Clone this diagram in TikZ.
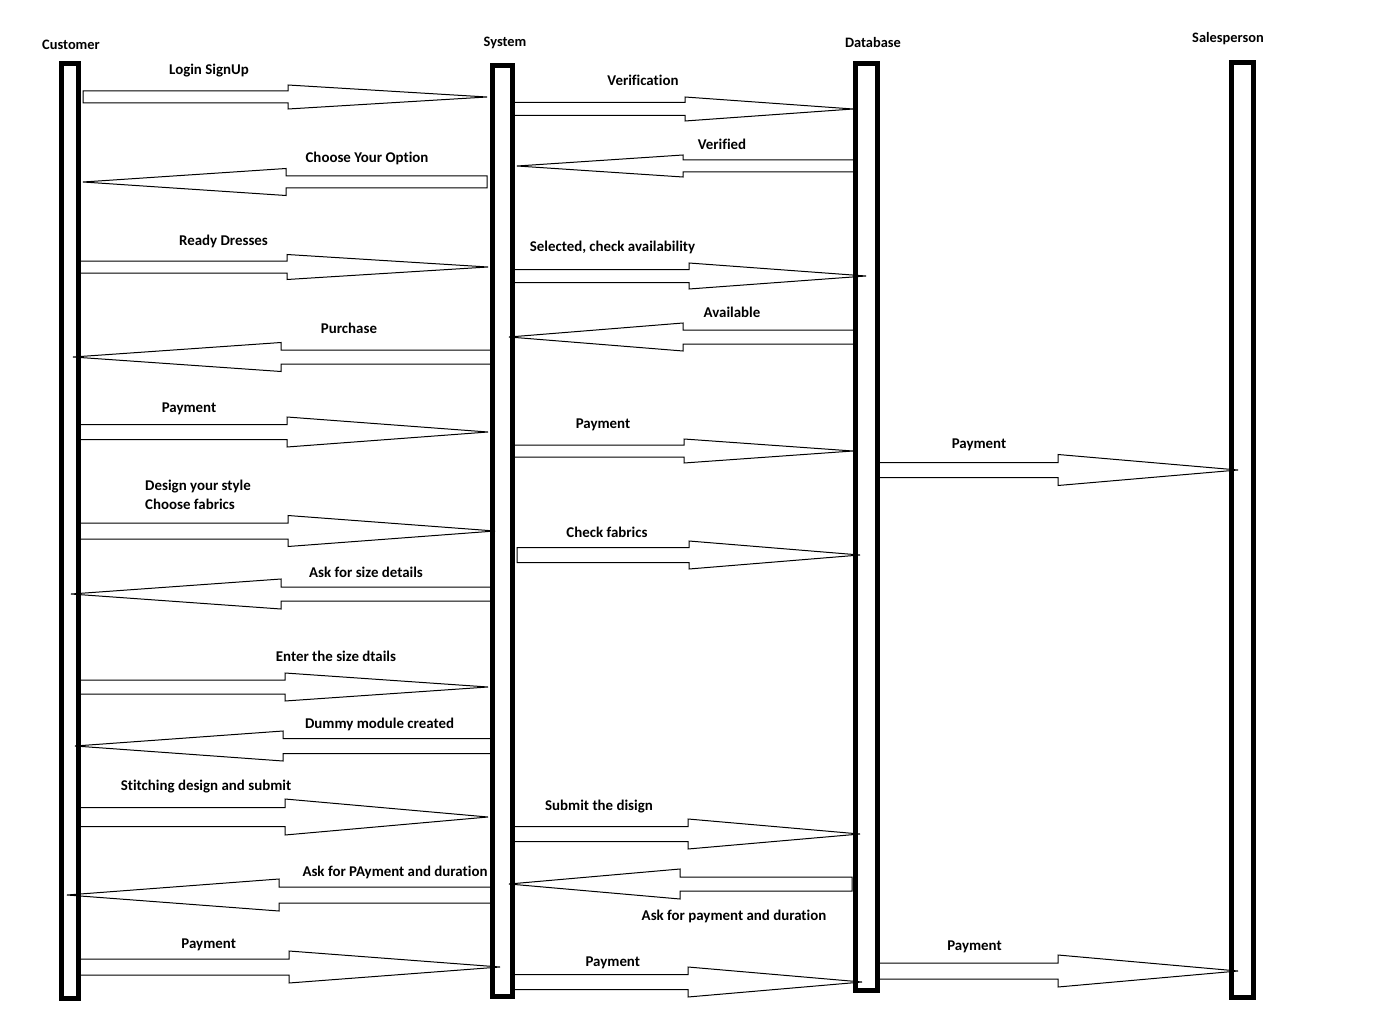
\documentclass[tikz,border=0pt]{standalone}
\usepackage{fontspec}
\setmainfont{Carlito}[Ligatures={NoCommon}]
\begin{document}
\begin{tikzpicture}[x=1pt,y=-1pt,
  arr/.style={draw=black,line width=1pt,fill=white,line join=miter},
  life/.style={draw=black,line width=5pt},
  lbl/.style={font=\fontsize{14.9}{17}\selectfont\bfseries,inner sep=0pt,anchor=center},
  hdr/.style={font=\fontsize{14.4}{17}\selectfont\bfseries,inner sep=0pt,anchor=center}]
\useasboundingbox[fill=white] (0,0) rectangle (1382,1030);
% block arrow: tail x, head base x, tip x, centre y, shaft half, head half
\newcommand\blockarr[6]{%
  \draw[arr] (#1,#4-#5) -- (#2,#4-#5) -- (#2,#4-#6) -- (#3,#4) -- (#2,#4+#6) -- (#2,#4+#5) -- (#1,#4+#5) -- cycle;}
% headers
\node[hdr] (hcust) at (71,44.5) {Customer};
\node[hdr] (hsys) at (505,42.5) {System};
\node[hdr] (hdb) at (873,42.5) {Database};
\node[hdr] (hsales) at (1228,38.5) {Salesperson};
% arrows
\blockarr{83}{288}{487}{97}{6}{12}
\node[lbl] (l1) at (209,71) {Login SignUp};
\blockarr{487}{286}{83}{182}{6}{13.5}
\node[lbl] (l2) at (367,158) {Choose Your Option};
\blockarr{512}{685}{853}{109}{6.5}{12}
\node[lbl] (l3) at (643,80) {Verification};
\blockarr{856}{683}{517}{166}{6}{11}
\node[lbl] (l4) at (722,144) {Verified};
\blockarr{78}{287}{488}{267}{6}{12.5}
\node[lbl] (l5) at (223.5,241) {Ready Dresses};
\blockarr{512}{689}{866}{276}{6.5}{13}
\node[lbl] (l6) at (612.5,247) {Selected, check availability};
\blockarr{856}{683}{509}{337}{7}{14}
\node[lbl] (l7) at (732,312) {Available};
\blockarr{493}{281}{73}{357}{7}{14.5}
\node[lbl] (l8) at (349,328) {Purchase};
\blockarr{78}{287}{488}{432}{7.5}{15}
\node[lbl] (l9) at (189,408.5) {Payment};
\blockarr{512}{684}{853}{451}{6}{12}
\node[lbl] (l10) at (603,424.5) {Payment};
\blockarr{877}{1058}{1238}{470}{7.5}{15.5}
\node[lbl] (l11) at (979,444.5) {Payment};
\blockarr{78}{288}{495}{531}{8}{15.5}
\node[lbl,anchor=west] (l12a) at (145,486.5) {Design your style};
\node[lbl,anchor=west] (l12b) at (145,504) {Choose fabrics};
\blockarr{517}{689}{860}{555}{7.5}{14}
\node[lbl] (l13) at (607,532) {Check fabrics};
\blockarr{493}{281}{71}{594}{7}{15}
\node[lbl] (l14) at (366,572) {Ask for size details};
\blockarr{78}{285}{488}{687}{7}{14}
\node[lbl] (l15) at (336,656.5) {Enter the size dtails};
\blockarr{493}{283}{75}{746}{7.5}{15}
\node[lbl] (l16) at (379.5,724.5) {Dummy module created};
\blockarr{78}{285}{488}{817}{9.5}{18}
\node[lbl] (l17) at (206,786.5) {Stitching design and submit};
\blockarr{512}{688}{860}{834}{7.5}{15}
\node[lbl] (l18) at (599,806.5) {Submit the disign};
\blockarr{493}{279}{67}{895}{8}{16}
\node[lbl] (l19) at (395,872.5) {Ask for PAyment and duration};
\blockarr{852}{680}{509}{884}{7}{15}
\node[lbl] (l20) at (734,916.5) {Ask for payment and duration};
\blockarr{78}{289}{500}{967}{8}{16}
\node[lbl] (l21) at (208.7,944.5) {Payment};
\blockarr{512}{688}{862}{982}{7.5}{15}
\node[lbl] (l22) at (612.8,962.5) {Payment};
\blockarr{877}{1058}{1238}{971}{8}{16}
\node[lbl] (l23) at (974.5,946.5) {Payment};
% lifelines (outer bounds inset by half the border)
\draw[life] (61.5,63.5) rectangle (78.5,998.5);
\draw[life] (492.5,65.5) rectangle (512.5,996.5);
\draw[life] (855.5,63.5) rectangle (877.5,990.5);
\draw[life] (1231.5,62.5) rectangle (1253.5,997.5);
\end{tikzpicture}
\end{document}
